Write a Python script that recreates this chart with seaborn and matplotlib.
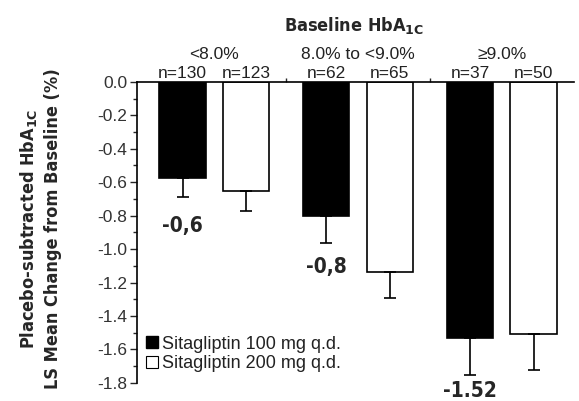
import pandas as pd
import matplotlib.pyplot as plt
import seaborn as sns
from matplotlib.lines import Line2D
from matplotlib.ticker import MultipleLocator

# --- Data ---
groups = ['<8.0%', '8.0% to <9.0%', '≥9.0%']
treatments = ['Sitagliptin 100 mg q.d.', 'Sitagliptin 200 mg q.d.']
mean_100 = [-0.575, -0.80, -1.53]
mean_200 = [-0.65, -1.135, -1.51]
se_100 = [0.115, 0.165, 0.22]
se_200 = [0.125, 0.155, 0.21]
n_100 = ['n=130', 'n=62', 'n=37']
n_200 = ['n=123', 'n=65', 'n=50']
value_labels = ['-0,6', '-0,8', '-1.52']
value_label_y = [-0.90, -1.145, -1.885]

PLAIN = ['Liberation Sans', 'DejaVu Sans']
BOLD = dict(family='DejaVu Sans', fontweight='bold', fontstretch='condensed')
TXT = '#222222'


def main():
    sns.set_theme(style='white')
    plt.rcParams['font.family'] = PLAIN
    plt.rcParams['mathtext.fontset'] = 'dejavusans'

    df = pd.DataFrame({
        'group': groups * 2,
        'treatment': [treatments[0]] * 3 + [treatments[1]] * 3,
        'value': mean_100 + mean_200,
    })

    fig = plt.figure(figsize=(5.79, 4.01), dpi=100)
    ax = fig.add_axes([0.237, 0.045, 0.754, 0.751])

    sns.barplot(data=df, x='group', y='value', hue='treatment', order=groups,
                hue_order=treatments, palette=['black', 'white'],
                edgecolor='black', linewidth=1.2, width=0.88, gap=0.27,
                errorbar=None, legend=False, ax=ax)

    # bar centres from the drawn patches
    bars = [p for p in ax.patches if p.get_height() != 0]
    xs = [p.get_x() + p.get_width() / 2 for p in bars]
    xs_100, xs_200 = xs[:3], xs[3:]

    for x_list, means, errs in [(xs_100, mean_100, se_100), (xs_200, mean_200, se_200)]:
        ax.errorbar(x_list, means, yerr=[errs, [0] * 3], fmt='none',
                    ecolor='black', elinewidth=1.2, capsize=4, capthick=1.2,
                    clip_on=False, zorder=1)

    # n= labels above each bar
    for x, t in zip(xs_100 + xs_200, n_100 + n_200):
        ax.text(x, 0.024, t, ha='center', va='baseline', fontsize=12.5, color=TXT)

    # group labels
    for i, g in enumerate(groups):
        ax.text(i, 0.135, g, ha='center', va='baseline', fontsize=12.5, color=TXT)

    ax.text(0.97, 0.305, 'Baseline HbA$_{\\mathbf{1C}}$', ha='center', va='baseline',
            fontsize=13, **BOLD)

    # value annotations below the 100 mg bars
    for x, y, t in zip(xs_100, value_label_y, value_labels):
        ax.text(x, y, t, ha='center', va='baseline', fontsize=15,
                clip_on=False, **BOLD)

    ax.set_ylim(-1.8, 0)
    ax.set_xlim(-0.535, 2.5)
    ax.yaxis.set_major_locator(MultipleLocator(0.2))
    ax.yaxis.set_minor_locator(MultipleLocator(0.1))
    ax.yaxis.set_major_formatter(lambda v, pos: f'{v:.1f}')
    ax.tick_params(axis='y', which='major', direction='out', length=5, width=1,
                   left=True, labelsize=12.5, labelcolor='#333333', pad=2)
    ax.tick_params(axis='y', which='minor', direction='out', length=3, width=1, left=True)

    ax.xaxis.tick_top()
    ax.set_xticks([0.5, 1.5])
    ax.set_xticklabels(['', ''])
    ax.tick_params(axis='x', direction='out', length=3, width=1, top=True, bottom=False)
    ax.set_xlabel('')

    for side in ['right', 'bottom']:
        ax.spines[side].set_visible(False)
    for side in ['left', 'top']:
        ax.spines[side].set_color('black')
        ax.spines[side].set_linewidth(1.2)

    ax.set_ylabel('Placebo-subtracted HbA$_{\\mathbf{1C}}$\nLS Mean Change from Baseline (%)',
                  fontsize=13, linespacing=1.4, **BOLD)
    ax.yaxis.set_label_coords(-0.172, 0.512)

    handles = [
        Line2D([], [], marker='s', linestyle='none', markersize=8,
               markerfacecolor='black', markeredgecolor='black'),
        Line2D([], [], marker='s', linestyle='none', markersize=8,
               markerfacecolor='white', markeredgecolor='black', markeredgewidth=0.8),
    ]
    ax.legend(handles, treatments, loc='upper left', bbox_to_anchor=(0.018, 0.157),
              frameon=False, fontsize=13, handlelength=0.8, handletextpad=0.15,
              labelspacing=0.15, borderaxespad=0, borderpad=0, labelcolor=TXT)

    fig.savefig('out.png', dpi=100)


if __name__ == '__main__':
    main()
